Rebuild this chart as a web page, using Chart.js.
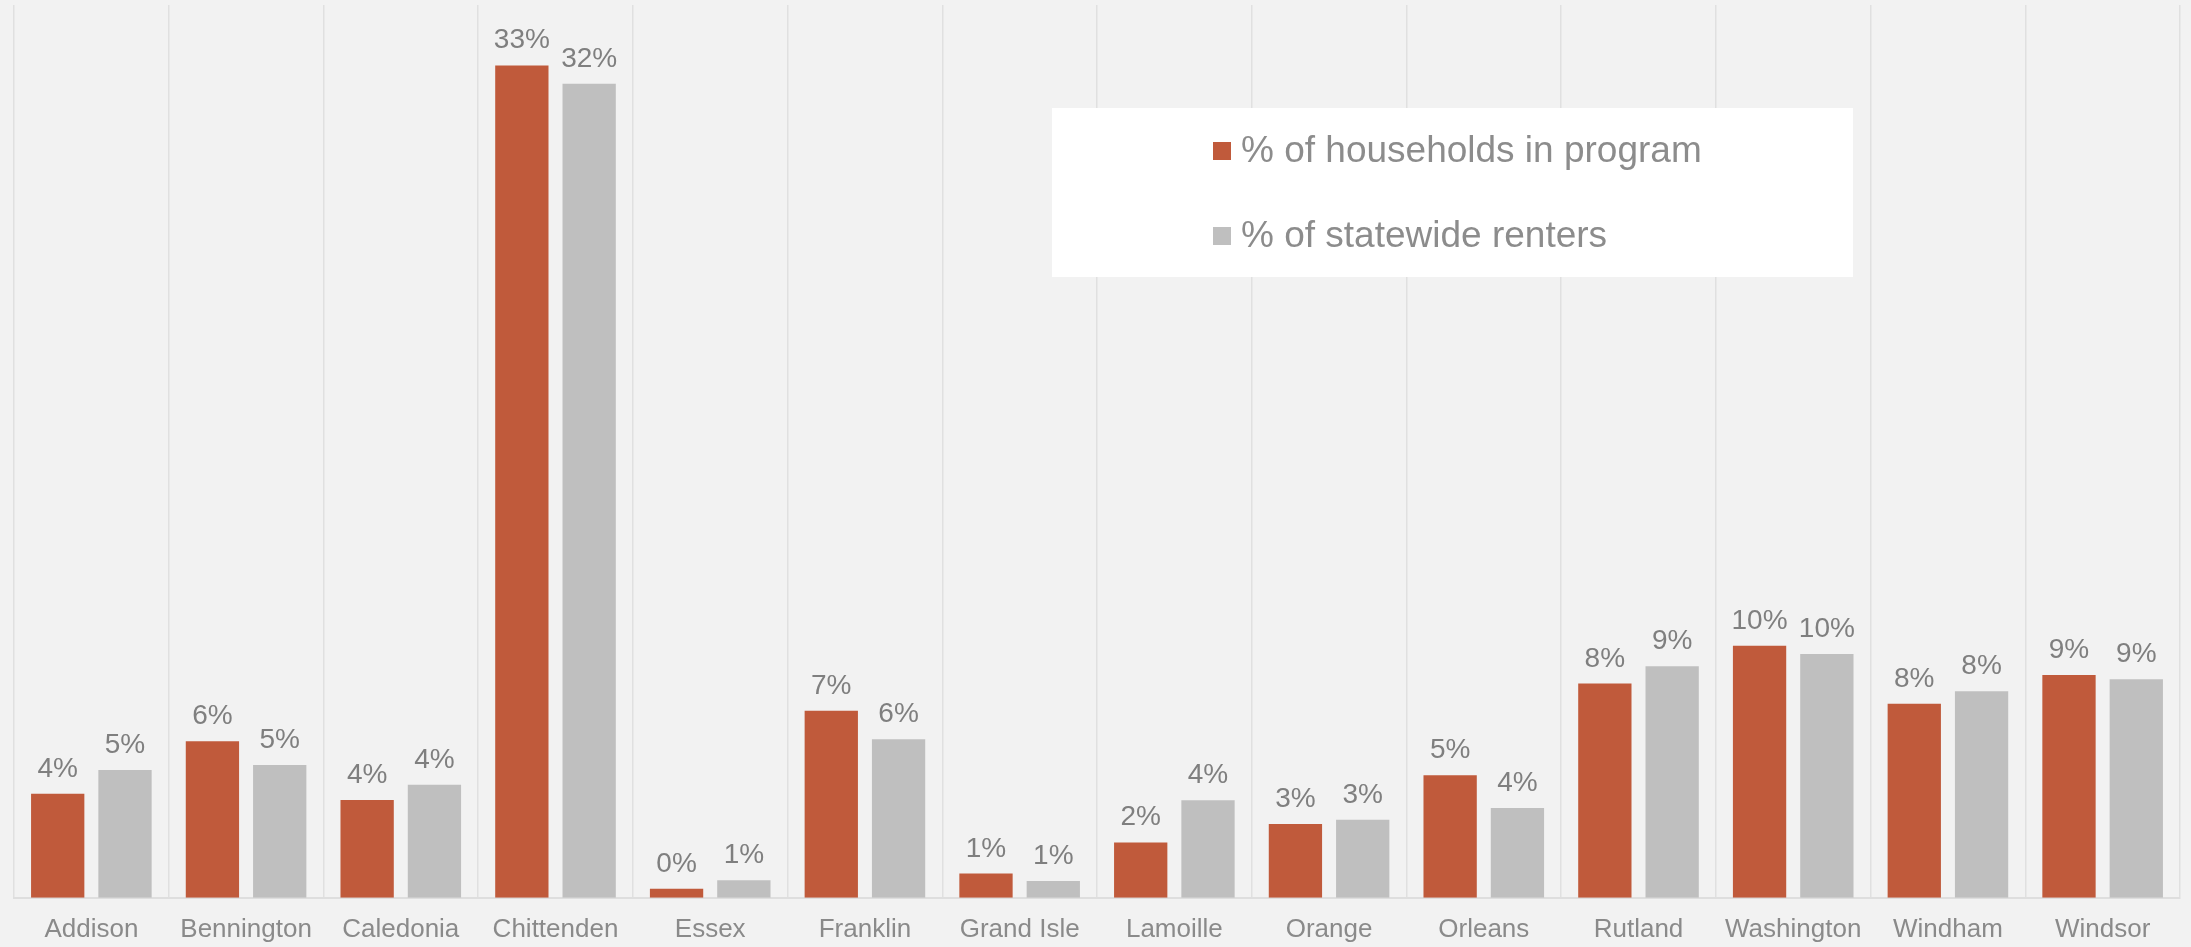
<!DOCTYPE html>
<html lang="en">
<head>
<meta charset="UTF-8">
<title>Households in program vs statewide renters by county</title>
<style>
    html, body {
        margin: 0;
        padding: 0;
        background: #f2f2f2;
    }
    #chart-container {
        width: 2191px;
        height: 947px;
        position: relative;
    }
</style>
</head>
<body>
<div id="chart-container">
    <canvas id="countyChart"></canvas>
</div>

<script src="https://cdn.jsdelivr.net/npm/chart.js"></script>
<script>
    const counties = ['Addison', 'Bennington', 'Caledonia', 'Chittenden', 'Essex', 'Franklin', 'Grand Isle',
        'Lamoille', 'Orange', 'Orleans', 'Rutland', 'Washington', 'Windham', 'Windsor'];

    const seriesNames = ['% of households in program', '% of statewide renters'];

    // percent values
    const programShare = [4.08, 6.14, 3.83, 32.63, 0.35, 7.33, 0.95, 2.17, 2.89, 4.80, 8.40, 9.88, 7.61, 8.73];
    const renterShare  = [5.01, 5.21, 4.43, 31.91, 0.69, 6.22, 0.66, 3.82, 3.06, 3.52, 9.08, 9.56, 8.10, 8.57];

    const yMin = 0;
    const yMax = 35;

    const RED = '#c05a3b';
    const GREY = '#bfbfbf';
    const FONT = '"Liberation Sans", Arial, sans-serif';

    // value labels above each bar
    const barLabels = {
        id: 'barLabels',
        afterDatasetsDraw(chart) {
            const ctx = chart.ctx;
            ctx.save();
            ctx.font = '28px ' + FONT;
            ctx.fillStyle = '#7f7f7f';
            ctx.textAlign = 'center';
            ctx.textBaseline = 'alphabetic';
            chart.data.datasets.forEach((ds, i) => {
                chart.getDatasetMeta(i).data.forEach((bar, j) => {
                    ctx.fillText(Math.round(ds.data[j]) + '%', bar.x, bar.y - 17);
                });
            });
            ctx.restore();
        }
    };

    // white legend box in the upper right
    const boxLegend = {
        id: 'boxLegend',
        afterDraw(chart) {
            const ctx = chart.ctx;
            ctx.save();
            ctx.fillStyle = '#ffffff';
            ctx.fillRect(1052, 108, 801, 169);
            ctx.font = '37px ' + FONT;
            ctx.textAlign = 'left';
            ctx.textBaseline = 'middle';
            const rows = [151, 236];
            chart.data.datasets.forEach((ds, i) => {
                ctx.fillStyle = ds.backgroundColor;
                ctx.fillRect(1213, rows[i] - 9, 18, 18);
                ctx.fillStyle = '#8c8c8c';
                ctx.fillText(ds.label, 1241, rows[i] + 1);
            });
            ctx.restore();
        }
    };

    const ctx = document.getElementById('countyChart').getContext('2d');
    new Chart(ctx, {
        type: 'bar',
        data: {
            labels: counties,
            datasets: [{
                label: seriesNames[0],
                data: programShare,
                backgroundColor: RED,
                barPercentage: 0.792,
                categoryPercentage: 0.87
            }, {
                label: seriesNames[1],
                data: renterShare,
                backgroundColor: GREY,
                barPercentage: 0.792,
                categoryPercentage: 0.87
            }]
        },
        options: {
            responsive: true,
            maintainAspectRatio: false,
            animation: false,
            layout: {
                padding: { left: 14, right: 11, top: 5, bottom: -14 }
            },
            plugins: {
                legend: { display: false },
                tooltip: { enabled: false }
            },
            scales: {
                x: {
                    grid: {
                        display: true,
                        color: '#e0e0e0',
                        lineWidth: 1.5,
                        drawTicks: false
                    },
                    border: { display: true, color: '#dedede', width: 2 },
                    ticks: {
                        color: '#8a8a8a',
                        font: { family: FONT, size: 26 },
                        padding: 16,
                        maxRotation: 0,
                        autoSkip: false
                    }
                },
                y: {
                    display: false,
                    min: yMin,
                    max: yMax
                }
            }
        },
        plugins: [barLabels, boxLegend]
    });
</script>
</body>
</html>
